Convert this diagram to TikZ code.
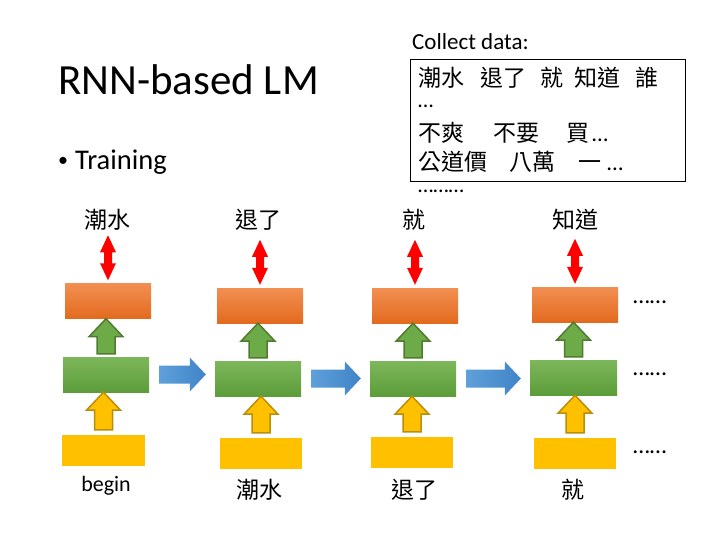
\documentclass[tikz,border=0pt]{standalone}
\usepackage{fontspec}
\setmainfont{Carlito}
\newfontfamily\cjk{Noto Sans CJK TC}
\usetikzlibrary{calc}
\definecolor{orT}{HTML}{F28F52}
\definecolor{orB}{HTML}{E36A1E}
\definecolor{grT}{HTML}{7DB75B}
\definecolor{grB}{HTML}{5C9C39}
\definecolor{grA}{HTML}{6DAA48}
\definecolor{grD}{HTML}{4F7B31}
\definecolor{yeF}{HTML}{FFC000}
\definecolor{yeD}{HTML}{B88E0A}
\definecolor{blT}{HTML}{5FA0DA}
\definecolor{blB}{HTML}{3F84C8}
\definecolor{rdA}{HTML}{FF0000}
\newcommand\blockup[3]{%
  \path[#3] let \p1=(#1), \p2=(#2) in
    ({\x1-9pt},{\y1}) -- ({\x1-9pt},{\y2-18pt}) -- ({\x1-17pt},{\y2-18pt}) -- ({\x1},{\y2})
    -- ({\x1+17pt},{\y2-18pt}) -- ({\x1+9pt},{\y2-18pt}) -- ({\x1+9pt},{\y1}) -- cycle;}
\newcommand\blockright[3]{%
  \path[#3] let \p1=(#1), \p2=(#2) in
    ({\x1},{\y1+9pt}) -- ({\x2-16pt},{\y1+9pt}) -- ({\x2-16pt},{\y1+17pt}) -- ({\x2},{\y1})
    -- ({\x2-16pt},{\y1-17pt}) -- ({\x2-16pt},{\y1-9pt}) -- ({\x1},{\y1-9pt}) -- cycle;}
\newcommand\dblarrow[3]{%
  \path[#3] let \p1=(#1), \p2=(#2) in
    ({\x1},{\y1}) -- ({\x1+8pt},{\y1-17pt}) -- ({\x1+4pt},{\y1-17pt}) -- ({\x1+4pt},{\y2+17pt})
    -- ({\x1+8pt},{\y2+17pt}) -- ({\x1},{\y2}) -- ({\x1-8pt},{\y2+17pt}) -- ({\x1-4pt},{\y2+17pt})
    -- ({\x1-4pt},{\y1-17pt}) -- ({\x1-8pt},{\y1-17pt}) -- cycle;}
\tikzset{
  obox/.style={rectangle, inner sep=0, minimum width=86, minimum height=35, top color=orT, bottom color=orB},
  gbox/.style={rectangle, inner sep=0, minimum width=86, minimum height=35, top color=grT, bottom color=grB},
  ybox/.style={rectangle, inner sep=0, minimum width=82, minimum height=31, fill=yeF},
  garr/.style={fill=grA, draw=grD, line width=1.5pt},
  yarr/.style={fill=yeF, draw=yeD, line width=1.5pt},
  barr/.style={left color=blT, right color=blB},
  rarr/.style={fill=rdA},
  cjklab/.style={inner sep=0, font=\cjk\fontsize{23}{26}\selectfont},
  dots/.style={inner sep=0, anchor=west, font=\fontsize{24}{28}\selectfont},
}
\begin{document}
\begin{tikzpicture}[x=1pt,y=-1pt]
\useasboundingbox (0,0) rectangle (720,540);
\fill[white] (0,0) rectangle (720,540);

% title and bullet
\node[inner sep=0, anchor=west, font=\fontsize{43}{47}\selectfont] (title) at (58,80) {RNN-based LM};
\node[inner sep=0, anchor=west, font=\fontsize{28.5}{32}\selectfont] (train) at (58,162) {\raisebox{2.5pt}{\fontsize{20}{20}\selectfont\textbullet}\hspace{7pt}Training};

% collect data
\node[inner sep=0, anchor=west, font=\fontsize{23}{26}\selectfont] (cd) at (412,42) {Collect data:};
\draw[line width=0.9pt] (410,59) rectangle (685,181);
\node[cjklab, anchor=west] (l1) at (418,78) {潮水\hspace{16pt}退了\hspace{14pt}就\hspace{11pt}知道\hspace{15pt}誰};
\node[dots, font=\fontsize{22}{26}\selectfont] (l2) at (418,106) {…};
\node[cjklab, anchor=west] (l3) at (418,133) {不爽\hspace{29pt}不要\hspace{27pt}買\hspace{3pt}{\fontspec{Carlito}…}};
\node[cjklab, anchor=west] (l4) at (418,162) {公道價\hspace{22pt}八萬\hspace{23pt}一\hspace{6pt}{\fontspec{Carlito}…}};
\node[dots, font=\fontsize{22}{26}\selectfont] (l5) at (418,191) {………};

% boxes
\node[obox] (o1) at (108,301) {};
\node[gbox] (g1) at (106,374.5) {};
\node[ybox, minimum width=83] (y1) at (103.5,450.5) {};
\node[obox] (o2) at (260,305.5) {};
\node[gbox] (g2) at (258,378.5) {};
\node[ybox] (y2) at (261,453.5) {};
\node[obox] (o3) at (415,305.5) {};
\node[gbox] (g3) at (413,378.5) {};
\node[ybox] (y3) at (412,452.5) {};
\node[obox] (o4) at (575,304.5) {};
\node[gbox, minimum width=87] (g4) at (573.5,377.5) {};
\node[ybox] (y4) at (575,453.5) {};

% top labels
\node[cjklab] (t1) at (107,220) {潮水};
\node[cjklab] (t2) at (258,220) {退了};
\node[cjklab] (t3) at (414,220) {就};
\node[cjklab] (t4) at (575,220) {知道};
% bottom labels
\node[inner sep=0, font=\fontsize{22}{26}\selectfont] (b1) at (106,486) {begin};
\node[cjklab] (b2) at (259,490) {潮水};
\node[cjklab] (b3) at (414,490) {退了};
\node[cjklab] (b4) at (573,490) {就};

% dots right
\node[dots] (d1) at (633,302) {……};
\node[dots] (d2) at (633,374) {……};
\node[dots] (d3) at (633,452) {……};

% red double arrows
\foreach \i in {1,2,3,4}{
  \coordinate (rt\i) at ($(o\i.north)+(0,-48)$);
  \coordinate (rb\i) at ($(o\i.north)+(0,-3)$);
  \dblarrow{rt\i}{rb\i}{rarr}
}
% green and yellow up arrows
\foreach \i in {1,2,3,4}{
  \coordinate (gb\i) at ($(g\i.north)+(0,-3)$);
  \coordinate (gt\i) at (g\i.north |- o\i.south);
  \blockup{gb\i}{gt\i}{garr}
  \coordinate (yb\i) at ($(y\i.north)+(0,-5)$);
  \coordinate (yt\i) at (y\i.north |- g\i.south);
  \blockup{yb\i}{yt\i}{yarr}
}
% blue arrows
\foreach \i/\j in {1/2,2/3,3/4}{
  \coordinate (bs\i) at ($(g\i.east)+(10,0)$);
  \coordinate (be\i) at ($(g\j.west)+(-9,0)$);
  \blockright{bs\i}{be\i}{barr}
}
\end{tikzpicture}
\end{document}
